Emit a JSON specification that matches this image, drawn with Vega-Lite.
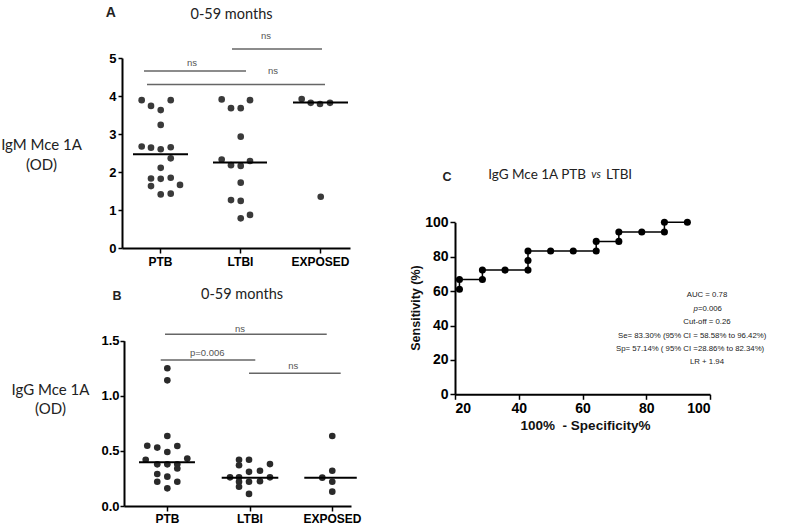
{
  "$schema": "https://vega.github.io/schema/vega-lite/v6.json",
  "width": 800,
  "height": 526,
  "autosize": {"type": "none"},
  "padding": 0,
  "background": "white",
  "config": {
    "view": {"stroke": null},
    "axis": {"grid": false, "domainColor": "black", "domainWidth": 2, "tickColor": "black", "tickWidth": 1.5, "tickSize": 4, "labelColor": "black", "labelFont": "Liberation Sans", "labelFontWeight": "bold", "labelPadding": 2, "titleColor": "#222"}
  },
  "datasets": {
    "dotsA": [
      {"group": "PTB", "pos": 0.771, "od": 3.89}, {"group": "PTB", "pos": 0.8875, "od": 3.74}, {"group": "PTB", "pos": 1.009, "od": 3.63}, {"group": "PTB", "pos": 1.134, "od": 3.89},
      {"group": "PTB", "pos": 1.009, "od": 3.24}, {"group": "PTB", "pos": 0.771, "od": 2.67}, {"group": "PTB", "pos": 0.8875, "od": 2.64}, {"group": "PTB", "pos": 1.009, "od": 2.60},
      {"group": "PTB", "pos": 1.134, "od": 2.65}, {"group": "PTB", "pos": 1.134, "od": 2.36}, {"group": "PTB", "pos": 1.009, "od": 2.11}, {"group": "PTB", "pos": 0.8875, "od": 1.83},
      {"group": "PTB", "pos": 1.009, "od": 1.82}, {"group": "PTB", "pos": 1.134, "od": 1.85}, {"group": "PTB", "pos": 0.8875, "od": 1.63}, {"group": "PTB", "pos": 1.25, "od": 1.66},
      {"group": "PTB", "pos": 1.009, "od": 1.41}, {"group": "PTB", "pos": 1.134, "od": 1.43},
      {"group": "LTBI", "pos": 1.771, "od": 3.91}, {"group": "LTBI", "pos": 1.8875, "od": 3.68}, {"group": "LTBI", "pos": 2.009, "od": 3.68}, {"group": "LTBI", "pos": 2.125, "od": 3.89},
      {"group": "LTBI", "pos": 2.009, "od": 2.93}, {"group": "LTBI", "pos": 1.771, "od": 2.33}, {"group": "LTBI", "pos": 1.8875, "od": 2.18}, {"group": "LTBI", "pos": 2.009, "od": 2.16},
      {"group": "LTBI", "pos": 2.125, "od": 2.29}, {"group": "LTBI", "pos": 2.009, "od": 1.72}, {"group": "LTBI", "pos": 1.8875, "od": 1.26}, {"group": "LTBI", "pos": 2.009, "od": 1.24},
      {"group": "LTBI", "pos": 2.009, "od": 0.78}, {"group": "LTBI", "pos": 2.125, "od": 0.87},
      {"group": "EXPOSED", "pos": 2.771, "od": 3.92}, {"group": "EXPOSED", "pos": 2.884, "od": 3.82}, {"group": "EXPOSED", "pos": 3.0, "od": 3.79}, {"group": "EXPOSED", "pos": 3.125, "od": 3.82},
      {"group": "EXPOSED", "pos": 3.009, "od": 1.35}
    ],
    "mediansA": [
      {"group": "PTB", "start": 0.6625, "end": 1.35, "od": 2.47},
      {"group": "LTBI", "start": 1.6625, "end": 2.3375, "od": 2.25},
      {"group": "EXPOSED", "start": 2.6625, "end": 3.35, "od": 3.83}
    ],
    "barsA": [
      {"label": "ns", "start": 1.9, "end": 3.025, "level": 5.24, "lx": 2.325, "ly": 5.58},
      {"label": "ns", "start": 0.8, "end": 2.075, "level": 4.66, "lx": 1.4, "ly": 4.87},
      {"label": "ns", "start": 0.8375, "end": 3.0625, "level": 4.30, "lx": 2.4125, "ly": 4.66}
    ],
    "letterA": [{"text": "A", "pos": 0.384, "od": 6.18}],
    "subtitleA": [{"text": "0-59 months", "pos": 1.894, "od": 6.13}],
    "dotsB": [
      {"group": "PTB", "pos": 1.004, "od": 1.25}, {"group": "PTB", "pos": 1.004, "od": 1.14}, {"group": "PTB", "pos": 1.004, "od": 0.635}, {"group": "PTB", "pos": 0.761, "od": 0.547},
      {"group": "PTB", "pos": 0.882, "od": 0.53}, {"group": "PTB", "pos": 1.004, "od": 0.49}, {"group": "PTB", "pos": 1.125, "od": 0.544}, {"group": "PTB", "pos": 0.742, "od": 0.42},
      {"group": "PTB", "pos": 1.246, "od": 0.43}, {"group": "PTB", "pos": 0.882, "od": 0.378}, {"group": "PTB", "pos": 1.004, "od": 0.378}, {"group": "PTB", "pos": 1.125, "od": 0.378},
      {"group": "PTB", "pos": 1.125, "od": 0.34}, {"group": "PTB", "pos": 0.882, "od": 0.29}, {"group": "PTB", "pos": 1.004, "od": 0.266}, {"group": "PTB", "pos": 0.882, "od": 0.22},
      {"group": "PTB", "pos": 1.125, "od": 0.22}, {"group": "PTB", "pos": 1.004, "od": 0.16},
      {"group": "LTBI", "pos": 1.873, "od": 0.42}, {"group": "LTBI", "pos": 1.994, "od": 0.42}, {"group": "LTBI", "pos": 1.873, "od": 0.37}, {"group": "LTBI", "pos": 2.248, "od": 0.38},
      {"group": "LTBI", "pos": 1.994, "od": 0.31}, {"group": "LTBI", "pos": 2.127, "od": 0.32}, {"group": "LTBI", "pos": 1.764, "od": 0.26}, {"group": "LTBI", "pos": 1.873, "od": 0.26},
      {"group": "LTBI", "pos": 2.248, "od": 0.26}, {"group": "LTBI", "pos": 1.873, "od": 0.22}, {"group": "LTBI", "pos": 1.994, "od": 0.22}, {"group": "LTBI", "pos": 2.127, "od": 0.225},
      {"group": "LTBI", "pos": 1.873, "od": 0.175}, {"group": "LTBI", "pos": 1.994, "od": 0.11},
      {"group": "EXPOSED", "pos": 3.003, "od": 0.635}, {"group": "EXPOSED", "pos": 3.003, "od": 0.32}, {"group": "EXPOSED", "pos": 2.882, "od": 0.257}, {"group": "EXPOSED", "pos": 3.003, "od": 0.22},
      {"group": "EXPOSED", "pos": 3.003, "od": 0.13}
    ],
    "mediansB": [
      {"group": "PTB", "start": 0.661, "end": 1.339, "od": 0.396},
      {"group": "LTBI", "start": 1.663, "end": 2.349, "od": 0.257},
      {"group": "EXPOSED", "start": 2.664, "end": 3.3, "od": 0.257}
    ],
    "barsB": [
      {"label": "ns", "start": 0.976, "end": 2.936, "level": 1.558, "lx": 1.885, "ly": 1.606},
      {"label": "p=0.006", "start": 0.924, "end": 2.07, "level": 1.325, "lx": 1.488, "ly": 1.386},
      {"label": "ns", "start": 1.994, "end": 3.105, "level": 1.204, "lx": 2.531, "ly": 1.27}
    ],
    "letterB": [{"text": "B", "pos": 0.394, "od": 1.906}],
    "subtitleB": [{"text": "0-59 months", "pos": 1.909, "od": 1.915}],
    "roc": [
      {"step": 1, "fpr": 21.4, "sens": 61.1}, {"step": 2, "fpr": 21.4, "sens": 66.7}, {"step": 3, "fpr": 28.6, "sens": 66.7}, {"step": 4, "fpr": 28.6, "sens": 72.2},
      {"step": 5, "fpr": 35.7, "sens": 72.2}, {"step": 6, "fpr": 42.9, "sens": 72.2}, {"step": 7, "fpr": 42.9, "sens": 77.8}, {"step": 8, "fpr": 42.9, "sens": 83.3},
      {"step": 9, "fpr": 50.0, "sens": 83.3}, {"step": 10, "fpr": 57.1, "sens": 83.3}, {"step": 11, "fpr": 64.3, "sens": 83.3}, {"step": 12, "fpr": 64.3, "sens": 88.9},
      {"step": 13, "fpr": 71.4, "sens": 88.9}, {"step": 14, "fpr": 71.4, "sens": 94.4}, {"step": 15, "fpr": 78.6, "sens": 94.4}, {"step": 16, "fpr": 85.7, "sens": 94.4},
      {"step": 17, "fpr": 85.7, "sens": 100}, {"step": 18, "fpr": 92.9, "sens": 100}
    ],
    "letterC": [{"text": "C", "fpr": 17.49, "sens": 126.3}],
    "titleC1": [{"text": "IgG Mce 1A PTB", "fpr": 61.1, "sens": 127.5}],
    "titleC2": [{"text": "vs", "fpr": 64.24, "sens": 127.3}],
    "titleC3": [{"text": "LTBI", "fpr": 67.37, "sens": 127.5}],
    "statsCentered": [
      {"text": "AUC = 0.78", "fpr": 99.06, "sens": 57.7},
      {"text": "Cut-off = 0.26", "fpr": 99.06, "sens": 41.9},
      {"text": "LR + 1.94", "fpr": 99.06, "sens": 18.6}
    ],
    "statsP": [
      {"text": "=0.006", "fpr": 96.2, "sens": 49.4}
    ],
    "statsPItalic": [
      {"text": "p", "fpr": 96.2, "sens": 49.4}
    ],
    "statsLeft": [
      {"text": "Se= 83.30% (95% CI = 58.58% to 96.42%)", "fpr": 71.14, "sens": 33.9},
      {"text": "Sp= 57.14% ( 95% CI =28.86% to 82.34%)", "fpr": 70.5, "sens": 26.2}
    ]
  },
  "layer": [
    {
      "data": {"name": "dotsA"},
      "mark": {"type": "circle", "size": 44, "color": "#3a3a3a", "opacity": 1},
      "encoding": {
        "x": {"field": "pos", "type": "quantitative", "scale": {"domain": [0.525, 3.375], "range": [122, 350], "nice": false, "zero": false},
          "axis": {"orient": "bottom", "offset": -278, "values": [1, 2, 3], "labelExpr": "datum.value == 1 ? 'PTB' : datum.value == 2 ? 'LTBI' : 'EXPOSED'", "labelFontSize": 12, "labelPadding": 3, "tickSize": 5, "title": null}},
        "y": {"field": "od", "type": "quantitative", "scale": {"domain": [0, 5], "range": [248, 58], "nice": false, "zero": false},
          "axis": {"orient": "left", "offset": -122, "values": [0, 1, 2, 3, 4, 5], "format": "d", "labelFontSize": 13, "title": ["IgM Mce 1A", "(OD)"], "titleAngle": 0, "titleX": -81, "titleY": 144, "titleAlign": "center", "titleBaseline": "middle", "titleFont": "Lato", "titleFontSize": 15, "titleFontWeight": "normal", "titleLineHeight": 20}}
      }
    },
    {
      "data": {"name": "mediansA"},
      "mark": {"type": "rule", "color": "black", "strokeWidth": 2},
      "encoding": {
        "x": {"field": "start", "type": "quantitative", "scale": {"domain": [0.525, 3.375], "range": [122, 350], "nice": false, "zero": false}, "axis": null},
        "x2": {"field": "end"},
        "y": {"field": "od", "type": "quantitative", "scale": {"domain": [0, 5], "range": [248, 58], "nice": false, "zero": false}, "axis": null}
      }
    },
    {
      "data": {"name": "barsA"},
      "mark": {"type": "rule", "color": "#666666", "strokeWidth": 1.5},
      "encoding": {
        "x": {"field": "start", "type": "quantitative", "scale": {"domain": [0.525, 3.375], "range": [122, 350], "nice": false, "zero": false}, "axis": null},
        "x2": {"field": "end"},
        "y": {"field": "level", "type": "quantitative", "scale": {"domain": [0, 5], "range": [248, 58], "nice": false, "zero": false}, "axis": null}
      }
    },
    {
      "data": {"name": "barsA"},
      "mark": {"type": "text", "font": "Liberation Sans", "fontSize": 9.5, "color": "#555555", "align": "center", "baseline": "middle"},
      "encoding": {
        "x": {"field": "lx", "type": "quantitative", "scale": {"domain": [0.525, 3.375], "range": [122, 350], "nice": false, "zero": false}, "axis": null},
        "y": {"field": "ly", "type": "quantitative", "scale": {"domain": [0, 5], "range": [248, 58], "nice": false, "zero": false}, "axis": null},
        "text": {"field": "label"}
      }
    },
    {
      "data": {"name": "letterA"},
      "mark": {"type": "text", "font": "Liberation Sans", "fontWeight": "bold", "fontSize": 14, "color": "#222222", "align": "center", "baseline": "middle"},
      "encoding": {
        "x": {"field": "pos", "type": "quantitative", "scale": {"domain": [0.525, 3.375], "range": [122, 350], "nice": false, "zero": false}, "axis": null},
        "y": {"field": "od", "type": "quantitative", "scale": {"domain": [0, 5], "range": [248, 58], "nice": false, "zero": false}, "axis": null},
        "text": {"field": "text"}
      }
    },
    {
      "data": {"name": "subtitleA"},
      "mark": {"type": "text", "font": "Lato", "fontSize": 14.5, "color": "#222222", "align": "center", "baseline": "middle"},
      "encoding": {
        "x": {"field": "pos", "type": "quantitative", "scale": {"domain": [0.525, 3.375], "range": [122, 350], "nice": false, "zero": false}, "axis": null},
        "y": {"field": "od", "type": "quantitative", "scale": {"domain": [0, 5], "range": [248, 58], "nice": false, "zero": false}, "axis": null},
        "text": {"field": "text"}
      }
    },
    {
      "data": {"name": "dotsB"},
      "mark": {"type": "circle", "size": 44, "color": "#2a2a2a", "opacity": 1},
      "encoding": {
        "x": {"field": "pos", "type": "quantitative", "scale": {"domain": [0.479, 3.23], "range": [124, 351], "nice": false, "zero": false},
          "axis": {"orient": "bottom", "offset": -20, "values": [1, 2, 3], "labelExpr": "datum.value == 1 ? 'PTB' : datum.value == 2 ? 'LTBI' : 'EXPOSED'", "labelFontSize": 12, "labelPadding": 2, "tickSize": 5, "title": null}},
        "y": {"field": "od", "type": "quantitative", "scale": {"domain": [0, 1.5], "range": [506, 340.7], "nice": false, "zero": false},
          "axis": {"orient": "left", "offset": -124, "values": [0, 0.5, 1, 1.5], "format": ".1f", "labelFontSize": 13, "labelPadding": 1, "title": ["IgG Mce 1A", "(OD)"], "titleAngle": 0, "titleX": -74, "titleY": 389, "titleAlign": "center", "titleBaseline": "middle", "titleFont": "Lato", "titleFontSize": 15, "titleFontWeight": "normal", "titleLineHeight": 19}}
      }
    },
    {
      "data": {"name": "mediansB"},
      "mark": {"type": "rule", "color": "black", "strokeWidth": 2},
      "encoding": {
        "x": {"field": "start", "type": "quantitative", "scale": {"domain": [0.479, 3.23], "range": [124, 351], "nice": false, "zero": false}, "axis": null},
        "x2": {"field": "end"},
        "y": {"field": "od", "type": "quantitative", "scale": {"domain": [0, 1.5], "range": [506, 340.7], "nice": false, "zero": false}, "axis": null}
      }
    },
    {
      "data": {"name": "barsB"},
      "mark": {"type": "rule", "color": "#666666", "strokeWidth": 1.5},
      "encoding": {
        "x": {"field": "start", "type": "quantitative", "scale": {"domain": [0.479, 3.23], "range": [124, 351], "nice": false, "zero": false}, "axis": null},
        "x2": {"field": "end"},
        "y": {"field": "level", "type": "quantitative", "scale": {"domain": [0, 1.5], "range": [506, 340.7], "nice": false, "zero": false}, "axis": null}
      }
    },
    {
      "data": {"name": "barsB"},
      "mark": {"type": "text", "font": "Liberation Sans", "fontSize": 9.5, "color": "#555555", "align": "center", "baseline": "middle"},
      "encoding": {
        "x": {"field": "lx", "type": "quantitative", "scale": {"domain": [0.479, 3.23], "range": [124, 351], "nice": false, "zero": false}, "axis": null},
        "y": {"field": "ly", "type": "quantitative", "scale": {"domain": [0, 1.5], "range": [506, 340.7], "nice": false, "zero": false}, "axis": null},
        "text": {"field": "label"}
      }
    },
    {
      "data": {"name": "letterB"},
      "mark": {"type": "text", "font": "Liberation Sans", "fontWeight": "bold", "fontSize": 12.5, "color": "#222222", "align": "center", "baseline": "middle"},
      "encoding": {
        "x": {"field": "pos", "type": "quantitative", "scale": {"domain": [0.479, 3.23], "range": [124, 351], "nice": false, "zero": false}, "axis": null},
        "y": {"field": "od", "type": "quantitative", "scale": {"domain": [0, 1.5], "range": [506, 340.7], "nice": false, "zero": false}, "axis": null},
        "text": {"field": "text"}
      }
    },
    {
      "data": {"name": "subtitleB"},
      "mark": {"type": "text", "font": "Lato", "fontSize": 14.5, "color": "#222222", "align": "center", "baseline": "middle"},
      "encoding": {
        "x": {"field": "pos", "type": "quantitative", "scale": {"domain": [0.479, 3.23], "range": [124, 351], "nice": false, "zero": false}, "axis": null},
        "y": {"field": "od", "type": "quantitative", "scale": {"domain": [0, 1.5], "range": [506, 340.7], "nice": false, "zero": false}, "axis": null},
        "text": {"field": "text"}
      }
    },
    {
      "data": {"name": "roc"},
      "mark": {"type": "line", "color": "black", "strokeWidth": 1.5},
      "encoding": {
        "x": {"field": "fpr", "type": "quantitative", "scale": {"domain": [20, 100], "range": [455, 710], "nice": false, "zero": false},
          "axis": {"orient": "bottom", "offset": -131.7, "values": [20, 40, 60, 80, 100], "labelFontSize": 14, "labelPadding": 2, "tickSize": 5, "title": "100%\u00a0\u00a0- Specificity%", "titleFont": "Liberation Sans", "titleFontWeight": "bold", "titleFontSize": 13.5, "titleX": 585, "titleY": 31.5, "titleAlign": "center", "titleBaseline": "middle", "titleColor": "#111111"}},
        "y": {"field": "sens", "type": "quantitative", "scale": {"domain": [0, 100], "range": [394.3, 222.3], "nice": false, "zero": false},
          "axis": {"orient": "left", "offset": -455, "values": [0, 20, 40, 60, 80, 100], "labelFontSize": 14, "labelPadding": 2, "tickSize": 5, "title": "Sensitivity (%)", "titleFont": "Liberation Sans", "titleFontWeight": "bold", "titleFontSize": 12.5, "titleAngle": 270, "titleX": -40, "titleY": 307.5, "titleAlign": "center", "titleBaseline": "middle", "titleColor": "#111111"}},
        "order": {"field": "step", "type": "quantitative"}
      }
    },
    {
      "data": {"name": "roc"},
      "mark": {"type": "circle", "size": 50, "color": "black", "opacity": 1},
      "encoding": {
        "x": {"field": "fpr", "type": "quantitative", "scale": {"domain": [20, 100], "range": [455, 710], "nice": false, "zero": false}, "axis": null},
        "y": {"field": "sens", "type": "quantitative", "scale": {"domain": [0, 100], "range": [394.3, 222.3], "nice": false, "zero": false}, "axis": null}
      }
    },
    {
      "data": {"name": "letterC"},
      "mark": {"type": "text", "font": "Liberation Sans", "fontWeight": "bold", "fontSize": 12.5, "color": "#222222", "align": "center", "baseline": "middle"},
      "encoding": {
        "x": {"field": "fpr", "type": "quantitative", "scale": {"domain": [20, 100], "range": [455, 710], "nice": false, "zero": false}, "axis": null},
        "y": {"field": "sens", "type": "quantitative", "scale": {"domain": [0, 100], "range": [394.3, 222.3], "nice": false, "zero": false}, "axis": null},
        "text": {"field": "text"}
      }
    },
    {
      "data": {"name": "titleC1"},
      "mark": {"type": "text", "font": "Lato", "fontSize": 13.5, "color": "#222222", "align": "right", "baseline": "middle"},
      "encoding": {
        "x": {"field": "fpr", "type": "quantitative", "scale": {"domain": [20, 100], "range": [455, 710], "nice": false, "zero": false}, "axis": null},
        "y": {"field": "sens", "type": "quantitative", "scale": {"domain": [0, 100], "range": [394.3, 222.3], "nice": false, "zero": false}, "axis": null},
        "text": {"field": "text"}
      }
    },
    {
      "data": {"name": "titleC2"},
      "mark": {"type": "text", "font": "Lato", "fontSize": 11, "fontStyle": "italic", "color": "#222222", "align": "center", "baseline": "middle"},
      "encoding": {
        "x": {"field": "fpr", "type": "quantitative", "scale": {"domain": [20, 100], "range": [455, 710], "nice": false, "zero": false}, "axis": null},
        "y": {"field": "sens", "type": "quantitative", "scale": {"domain": [0, 100], "range": [394.3, 222.3], "nice": false, "zero": false}, "axis": null},
        "text": {"field": "text"}
      }
    },
    {
      "data": {"name": "titleC3"},
      "mark": {"type": "text", "font": "Lato", "fontSize": 13.5, "color": "#222222", "align": "left", "baseline": "middle"},
      "encoding": {
        "x": {"field": "fpr", "type": "quantitative", "scale": {"domain": [20, 100], "range": [455, 710], "nice": false, "zero": false}, "axis": null},
        "y": {"field": "sens", "type": "quantitative", "scale": {"domain": [0, 100], "range": [394.3, 222.3], "nice": false, "zero": false}, "axis": null},
        "text": {"field": "text"}
      }
    },
    {
      "data": {"name": "statsCentered"},
      "mark": {"type": "text", "font": "Liberation Sans", "fontSize": 7.8, "color": "#222222", "align": "center", "baseline": "middle"},
      "encoding": {
        "x": {"field": "fpr", "type": "quantitative", "scale": {"domain": [20, 100], "range": [455, 710], "nice": false, "zero": false}, "axis": null},
        "y": {"field": "sens", "type": "quantitative", "scale": {"domain": [0, 100], "range": [394.3, 222.3], "nice": false, "zero": false}, "axis": null},
        "text": {"field": "text"}
      }
    },
    {
      "data": {"name": "statsPItalic"},
      "mark": {"type": "text", "font": "Liberation Sans", "fontSize": 7.8, "fontStyle": "italic", "color": "#222222", "align": "right", "baseline": "middle"},
      "encoding": {
        "x": {"field": "fpr", "type": "quantitative", "scale": {"domain": [20, 100], "range": [455, 710], "nice": false, "zero": false}, "axis": null},
        "y": {"field": "sens", "type": "quantitative", "scale": {"domain": [0, 100], "range": [394.3, 222.3], "nice": false, "zero": false}, "axis": null},
        "text": {"field": "text"}
      }
    },
    {
      "data": {"name": "statsP"},
      "mark": {"type": "text", "font": "Liberation Sans", "fontSize": 7.8, "color": "#222222", "align": "left", "baseline": "middle"},
      "encoding": {
        "x": {"field": "fpr", "type": "quantitative", "scale": {"domain": [20, 100], "range": [455, 710], "nice": false, "zero": false}, "axis": null},
        "y": {"field": "sens", "type": "quantitative", "scale": {"domain": [0, 100], "range": [394.3, 222.3], "nice": false, "zero": false}, "axis": null},
        "text": {"field": "text"}
      }
    },
    {
      "data": {"name": "statsLeft"},
      "mark": {"type": "text", "font": "Liberation Sans", "fontSize": 7.8, "color": "#222222", "align": "left", "baseline": "middle"},
      "encoding": {
        "x": {"field": "fpr", "type": "quantitative", "scale": {"domain": [20, 100], "range": [455, 710], "nice": false, "zero": false}, "axis": null},
        "y": {"field": "sens", "type": "quantitative", "scale": {"domain": [0, 100], "range": [394.3, 222.3], "nice": false, "zero": false}, "axis": null},
        "text": {"field": "text"}
      }
    }
  ],
  "resolve": {"scale": {"x": "independent", "y": "independent"}, "axis": {"x": "independent", "y": "independent"}}
}
